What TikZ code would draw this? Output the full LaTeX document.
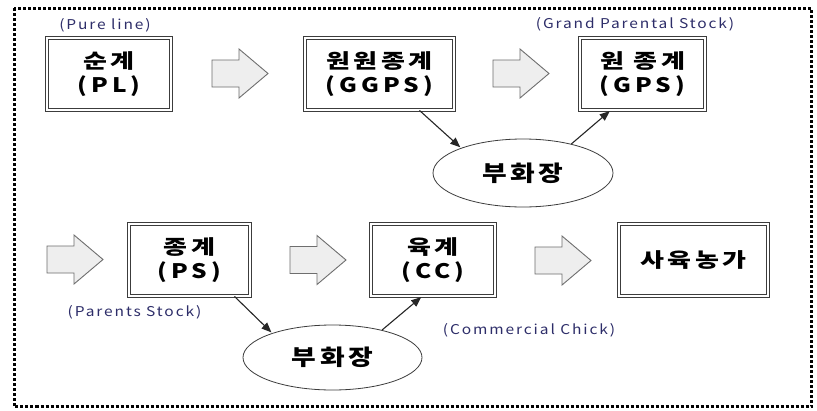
\documentclass[tikz,border=0pt]{standalone}
\usepackage{fontspec}
\setmainfont{Noto Sans CJK KR}
\newfontfamily\korfont[FakeStretch=1.3,LetterSpace=18]{Noto Sans CJK KR}
\newfontfamily\latfont[FakeStretch=1.22,LetterSpace=20]{Noto Sans CJK KR}
\newfontfamily\ellfont[FakeStretch=1.22,LetterSpace=16]{Noto Sans CJK KR}
\newfontfamily\labfont[FakeStretch=1.15,LetterSpace=14]{Noto Sans CJK KR}
\usetikzlibrary{shapes.geometric,arrows.meta}
\definecolor{labcol}{RGB}{45,45,105}
\definecolor{boxline}{RGB}{60,60,60}
\definecolor{arrfill}{RGB}{238,238,238}
\definecolor{arrline}{RGB}{110,110,110}
\newcommand{\twoline}[2]{{\korfont #1}\\{\latfont #2}}
\tikzset{
  stagebox/.style={rectangle, draw=boxline, line width=0.9pt, double=white, double distance=1.8pt,
    minimum height=72pt, inner sep=0pt, align=center,
    font=\bfseries\fontsize{20}{24}\selectfont},
  hatchery/.style={ellipse, draw=boxline, line width=0.8pt, fill=white, inner sep=0pt,
    font=\ellfont\bfseries\fontsize{22}{25}\selectfont},
  lab/.style={text=labcol, inner sep=0pt, font=\labfont\fontsize{13.5}{15}\selectfont},
  conn/.style={draw=black!85, line width=1.1pt, -{Triangle[length=10pt,width=8pt]}, shorten >=1pt},
  barrowline/.style={draw=arrline, fill=arrfill, line width=0.9pt, line join=miter},
  blockarr/.pic={\draw[barrowline] (0,-13.5) -- (27,-13.5) -- (27,-24.5) -- (56,0) -- (27,24.5) -- (27,13.5) -- (0,13.5) -- cycle;}
}
\begin{document}
\begin{tikzpicture}[x=1pt,y=-1pt]
\useasboundingbox (0,0) rectangle (817,410);
\fill[white] (0,0) rectangle (817,410);
\draw[line width=3pt, dash pattern=on 3pt off 2pt] (14,8) rectangle (811.5,406.5);

% row 1 boxes
\node[stagebox, minimum width=124pt] (pl) at (109,74) {\twoline{순계}{(PL)}};
\node[stagebox, minimum width=149pt] (ggps) at (379.5,74) {\twoline{원원종계}{(GGPS)}};
\node[stagebox, minimum width=125pt] (gps) at (642.5,74) {\twoline{원 종계}{(GPS)}};
% row 2 boxes
\node[stagebox, minimum width=121pt] (ps) at (189.5,260) {\twoline{종계}{(PS)}};
\node[stagebox, minimum width=124pt] (cc) at (433,260) {\twoline{육계}{(CC)}};
\node[stagebox, minimum width=149pt] (farm) at (693.5,260) {\korfont 사육농가};

% hatcheries
\node[hatchery, minimum width=180pt, minimum height=68pt] (hatch1) at (523,173) {부화장};
\node[hatchery, minimum width=179pt, minimum height=65pt] (hatch2) at (332.5,357.5) {부화장};

% labels
\node[lab] (lpl) at (105,25) {(Pure line)};
\node[lab] (lgps) at (635,24) {(Grand Parental Stock)};
\node[lab] (lps) at (134.5,312) {(Parents Stock)};
\node[lab] (lcc) at (529,330) {(Commercial Chick)};

% block arrows
\pic at (212,73.5) {blockarr};
\pic at (493,73.5) {blockarr};
\pic at (47,259.5) {blockarr};
\pic at (290,260) {blockarr};
\pic at (535,260.5) {blockarr};

% connectors
\draw[conn] ([xshift=40pt]ggps.south) -- (hatch1.158);
\draw[conn] (hatch1.31) -- ([xshift=-32pt]gps.south);
\draw[conn] ([xshift=45pt]ps.south) -- (hatch2.158);
\draw[conn] (hatch2.29) -- ([xshift=-11pt]cc.south);
\end{tikzpicture}
\end{document}
